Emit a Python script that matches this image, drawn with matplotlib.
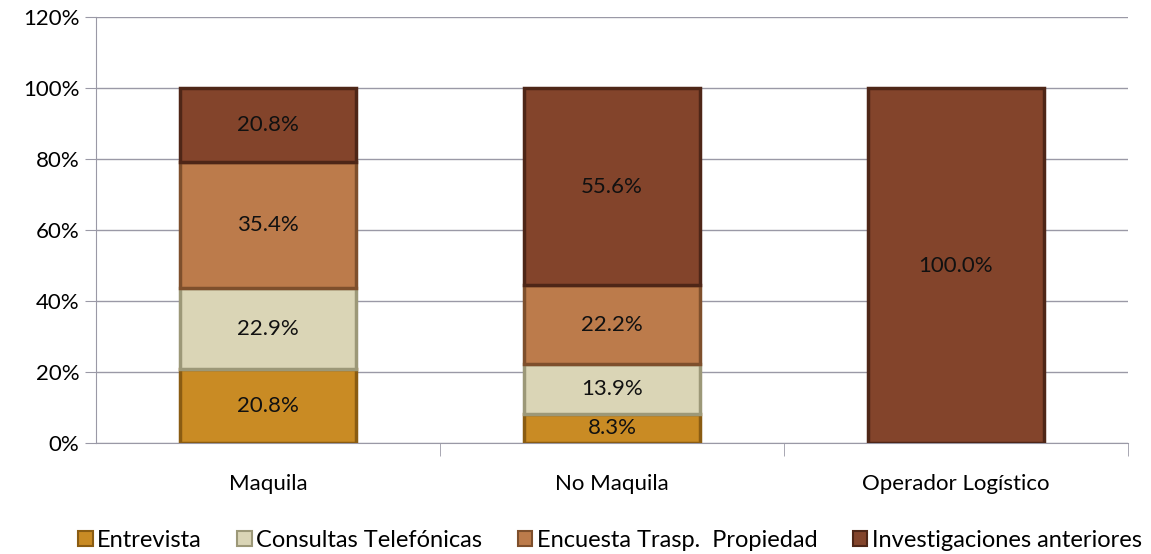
import numpy as np
import matplotlib.pyplot as plt
from matplotlib.patches import Patch

plt.rcParams['font.family'] = ['Lato', 'DejaVu Sans']

categories = ['Maquila', 'No Maquila', 'Operador Logístico']
series_names = ['Entrevista', 'Consultas Telefónicas', 'Encuesta Trasp.  Propiedad', 'Investigaciones anteriores']
entrevista = [20.8, 8.3, 0.0]
consultas = [22.9, 13.9, 0.0]
encuesta = [35.4, 22.2, 0.0]
investigaciones = [20.8, 55.6, 100.0]
colors = ['#C98B24', '#DAD5B6', '#BC7B4B', '#83442B']
edges = ['#8A5C12', '#9C9878', '#7E4F2C', '#4E2617']

fig = plt.figure(figsize=(11.51, 5.54), dpi=100)
ax = fig.add_axes([0.0834, 0.2004, 0.8966, 0.7686])

x = np.arange(len(categories))
width = 0.51
bottom = np.zeros(len(categories))
for vals, col, ec in zip([entrevista, consultas, encuesta, investigaciones], colors, edges):
    vals = np.array(vals)
    ax.bar(x, vals, width, bottom=bottom, color=col, edgecolor=ec, linewidth=2.5, zorder=3)
    for xi, b, v in zip(x, bottom, vals):
        if v > 0:
            ax.text(xi, b + v / 2, f'{v:.1f}%', ha='center', va='center', fontsize=16, color='#111111', zorder=4)
    bottom += vals

ax.set_ylim(0, 120)
ax.set_xlim(-0.5, 2.5)
ax.set_yticks(range(0, 121, 20))
ax.set_yticklabels([f'{v}%' for v in range(0, 121, 20)], fontsize=16)
ax.yaxis.grid(True, color='#9A99A6', linewidth=1, zorder=0)
ax.set_xticks(x)
ax.set_xticklabels(categories, fontsize=16)
ax.set_xticks([0.5, 1.5, 2.5], minor=True)
ax.tick_params(axis='x', which='major', length=0, pad=22)
ax.tick_params(axis='x', which='minor', length=9, color='#9A99A6')
ax.tick_params(axis='y', length=8, color='#9A99A6', pad=4)
for s in ['top', 'right']:
    ax.spines[s].set_visible(False)
for s in ['left', 'bottom']:
    ax.spines[s].set_color('#9A99A6')

handles = [Patch(facecolor=c, edgecolor=e, linewidth=1.5) for c, e in zip(colors, edges)]
fig.legend(handles, series_names, loc='center', bbox_to_anchor=(0.53, 0.025), ncol=4, frameon=False,
           fontsize=17, handlelength=0.6, handleheight=0.6, handletextpad=0.2, columnspacing=1.5)

fig.savefig('out.png', dpi=100)
